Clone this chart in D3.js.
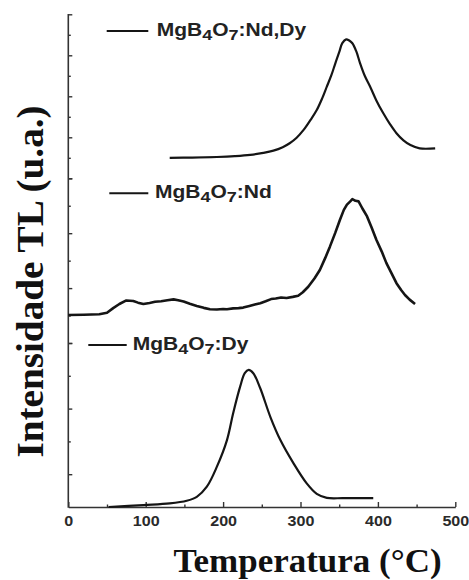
<!DOCTYPE html>
<html>
<head>
<meta charset="utf-8">
<script src="https://cdn.jsdelivr.net/npm/d3@7"></script>
<style>
  html, body { margin: 0; padding: 0; background: #fff; }
  svg { display: block; }
</style>
</head>
<body>
<div class="chart"></div>
<script>
// temperature (°C) / intensity (panel units)
const ndDyTemp = [131, 160, 192, 215, 235, 252, 265, 277, 286, 295, 304, 313, 321, 328, 334, 340, 345, 350, 354, 359, 363, 367, 372, 377, 383, 390, 398, 407, 416, 424, 433, 442, 454, 474];
const ndDyInt  = [1.00, 1.01, 1.04, 1.08, 1.14, 1.24, 1.35, 1.52, 1.71, 1.98, 2.36, 2.85, 3.33, 3.90, 4.47, 5.04, 5.61, 6.15, 6.59, 6.78, 6.72, 6.59, 6.20, 5.61, 5.00, 4.47, 3.80, 3.17, 2.62, 2.20, 1.85, 1.62, 1.46, 1.46];

const ndTemp = [0, 20, 40, 50, 58, 66, 75, 84, 90, 97, 105, 112, 120, 128, 136, 142, 149, 157, 166, 175, 183, 192, 200, 205, 213, 220, 226, 234, 241, 248, 255, 262, 268, 275, 282, 290, 297, 303, 310, 318, 325, 332, 338, 345, 351, 356, 360, 364, 367, 371, 375, 380, 386, 392, 398, 405, 411, 418, 424, 430, 435, 441, 448];
const ndInt  = [1.02, 1.03, 1.05, 1.10, 1.27, 1.42, 1.55, 1.53, 1.47, 1.42, 1.46, 1.50, 1.52, 1.56, 1.59, 1.56, 1.51, 1.43, 1.35, 1.28, 1.23, 1.22, 1.24, 1.23, 1.26, 1.27, 1.29, 1.35, 1.40, 1.45, 1.52, 1.60, 1.62, 1.66, 1.64, 1.68, 1.72, 1.85, 2.05, 2.35, 2.66, 3.10, 3.51, 4.02, 4.49, 4.85, 5.04, 5.15, 5.24, 5.18, 5.16, 4.90, 4.61, 4.20, 3.76, 3.33, 2.91, 2.52, 2.18, 1.93, 1.75, 1.58, 1.42];

const dyTemp = [52, 97, 131, 153, 166, 179, 192, 205, 213, 222, 228, 233, 239, 248, 261, 274, 291, 308, 321, 334, 355, 394];
const dyInt  = [0.00, 0.06, 0.11, 0.19, 0.31, 0.62, 1.23, 2.04, 2.86, 3.67, 4.08, 4.18, 4.08, 3.62, 2.75, 2.04, 1.33, 0.72, 0.40, 0.28, 0.27, 0.27];

const xMajor = [0, 100, 200, 300, 400, 500];
const xMinor = [50, 150, 250, 350, 450];

// stacked panels sharing one y axis line
const panelMax = [8, 6, 5];
const panelMajor = [[0, 2, 4, 6, 8], [0, 2, 4, 6], [1, 3, 5]];
const panelMinor = [[1, 3, 5, 7], [1, 3, 5], [2, 4]];
const panelTop = [14.3, 178.3, 343];
const panelBottom = [178.3, 343, 507];

const seriesNames = ['Nd,Dy', 'Nd', 'Dy'];

const svg = d3.select('.chart')
  .append('svg')
    .attr('width', 469)
    .attr('height', 580);

const x = d3.scaleLinear().domain([0, 500]).range([68.3, 455.3]);
const yScales = panelMax.map((m, i) => d3.scaleLinear().domain([0, m]).range([panelBottom[i], panelTop[i]]));

// x axis: ticks point up, labels below
const xAxisG = svg.append('g')
  .attr('transform', 'translate(0,507)')
  .call(d3.axisBottom(x).tickValues(xMajor).tickSizeInner(-5).tickSizeOuter(0).tickPadding(9));
xAxisG.select('.domain').attr('stroke', '#333').attr('stroke-width', 1.6);
xAxisG.selectAll('.tick line').attr('stroke', '#333').attr('stroke-width', 1.4);
xAxisG.selectAll('.tick text')
  .attr('fill', '#2a2a2a')
  .attr('font-family', 'Liberation Sans, Arial, sans-serif')
  .attr('font-weight', 'bold')
  .attr('font-size', 14)
  .attr('transform', 'scale(1.15,1)');

svg.append('g')
  .attr('transform', 'translate(0,507)')
  .call(d3.axisBottom(x).tickValues(xMinor).tickSizeInner(-2.5).tickSizeOuter(0).tickFormat(''))
  .call(g => g.select('.domain').remove())
  .selectAll('.tick line').attr('stroke', '#333').attr('stroke-width', 1.4);

// y axis line + per-panel ticks pointing right
svg.append('line')
  .attr('x1', x(0)).attr('x2', x(0))
  .attr('y1', 14).attr('y2', 507.8)
  .attr('stroke', '#333').attr('stroke-width', 1.6);

yScales.forEach((ys, i) => {
  svg.append('g')
    .attr('transform', `translate(${x(0)},0)`)
    .call(d3.axisRight(ys).tickValues(panelMajor[i]).tickSizeInner(4).tickSizeOuter(0).tickFormat(''))
    .call(g => g.select('.domain').remove())
    .selectAll('.tick line').attr('stroke', '#333').attr('stroke-width', 1.4);
  svg.append('g')
    .attr('transform', `translate(${x(0)},0)`)
    .call(d3.axisRight(ys).tickValues(panelMinor[i]).tickSizeInner(2.5).tickSizeOuter(0).tickFormat(''))
    .call(g => g.select('.domain').remove())
    .selectAll('.tick line').attr('stroke', '#333').attr('stroke-width', 1.4);
});

// curves
const series = [
  { t: ndDyTemp, v: ndDyInt, width: 2.2 },
  { t: ndTemp, v: ndInt, width: 2.6 },
  { t: dyTemp, v: dyInt, width: 2.2 }
];

series.forEach((s, i) => {
  const ys = yScales[i];
  const line = d3.line()
    .x(d => x(d[0]))
    .y(d => ys(d[1]))
    .curve(i === 1 ? d3.curveLinear : d3.curveCatmullRom.alpha(0.5));
  svg.append('path')
    .datum(d3.zip(s.t, s.v))
    .attr('d', line)
    .attr('fill', 'none')
    .attr('stroke', '#151515')
    .attr('stroke-width', s.width)
    .attr('stroke-linejoin', 'round');
});

// legends
const legendPos = [
  { x1: 106.7, x2: 148.3, y: 31, tx: 156.7 },
  { x1: 109.3, x2: 148.3, y: 193.3, tx: 155 },
  { x1: 88.3, x2: 126.7, y: 345, tx: 132.7 }
];

legendPos.forEach((p, i) => {
  svg.append('line')
    .attr('x1', p.x1).attr('x2', p.x2)
    .attr('y1', p.y).attr('y2', p.y)
    .attr('stroke', '#151515').attr('stroke-width', 2);
  const t = svg.append('text')
    .attr('transform', `translate(${p.tx},${p.y + 4.6}) scale(1.2,1)`)
    .attr('font-family', 'Liberation Sans, Arial, sans-serif')
    .attr('font-weight', 'bold')
    .attr('font-size', 17.5)
    .attr('fill', '#222');
  t.append('tspan').text('MgB');
  t.append('tspan').attr('dy', 4.5).attr('font-size', 15).text('4');
  t.append('tspan').attr('dy', -4.5).text('O');
  t.append('tspan').attr('dy', 4.5).attr('font-size', 15).text('7');
  t.append('tspan').attr('dy', -4.5).text(':' + seriesNames[i]);
});

// axis titles
svg.append('text')
  .attr('transform', 'translate(307.5,572) scale(1.06,1)')
  .attr('text-anchor', 'middle')
  .attr('font-family', 'Liberation Serif, Times New Roman, serif')
  .attr('font-weight', 'bold')
  .attr('font-size', 33)
  .attr('fill', '#111')
  .text('Temperatura (°C)');

svg.append('text')
  .attr('transform', 'translate(43,281.5) rotate(-90) scale(1.06,1)')
  .attr('text-anchor', 'middle')
  .attr('font-family', 'Liberation Serif, Times New Roman, serif')
  .attr('font-weight', 'bold')
  .attr('font-size', 37)
  .attr('fill', '#111')
  .text('Intensidade TL (u.a.)');
</script>
</body>
</html>
